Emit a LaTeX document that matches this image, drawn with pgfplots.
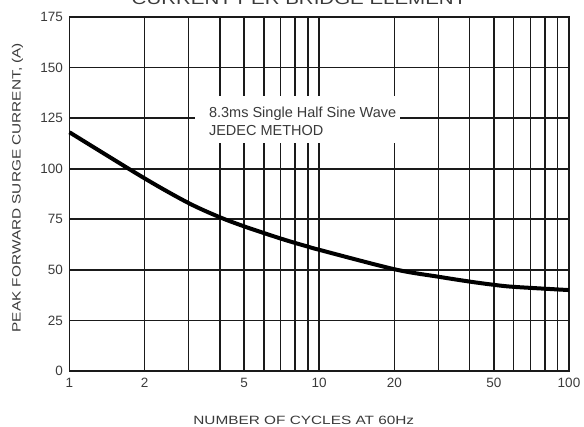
\documentclass[border=0pt]{standalone}
\usepackage{fontspec}
\setmainfont{Liberation Sans}
\newfontfamily\widefont[FakeStretch=1.28]{Liberation Sans}
\usepackage{pgfplots}
\pgfplotsset{compat=1.18}
\definecolor{txt}{HTML}{3a3a3a}
\definecolor{gridc}{HTML}{1a1a1a}

\begin{document}
\begin{tikzpicture}[x=1pt,y=1pt]
\useasboundingbox (0,0) rectangle (584,427);
\begin{axis}[
    at={(69.5pt,56pt)}, anchor=south west,
    scale only axis, width=499.5pt, height=354pt,
    xmode=log, log basis x=10,
    xmin=1, xmax=100, ymin=0, ymax=175,
    xtick={1,2,3,4,5,6,7,8,9,10,20,30,40,50,60,70,80,90,100},
    xticklabels={1,2,,,5,,,,,10,20,,,50,,,,,100},
    ytick={0,25,...,175},
    major tick length=0pt,
    grid=major,
    major grid style={gridc, line width=1.6pt},
    axis line style={gridc, line width=1.6pt},
    tick label style={font=\fontsize{13.5}{15}\selectfont, text=txt},
    /pgf/number format/assume math mode=true,
    xticklabel style={yshift=-4pt},
    yticklabel style={xshift=-3pt},
    xlabel={NUMBER OF CYCLES AT 60Hz},
    ylabel={PEAK FORWARD SURGE CURRENT, (A)},
    label style={font=\widefont\fontsize{12}{14}\selectfont, text=txt},
    xlabel style={at={(rel axis cs:0.469,-0.1525)}, anchor=base},
    ylabel style={at={(rel axis cs:-0.0977,0.518)}, anchor=base, rotate=0},
    clip=false,
]
% peak surge current vs. number of cycles
\addplot[black, line width=4pt, smooth] coordinates {
(1,118) (2,95.2) (3,83) (4,76) (5,71.5) (6,68.2) (7,65.5) (8,63.3) (9,61.5) (10,59.9)
(20,50.3) (30,46.6) (40,44.2) (50,42.6) (60,41.6) (100,40)};
\fill[white] (rel axis cs:0.251,0.644) rectangle (rel axis cs:0.662,0.777);
\node[anchor=base west, text=txt, font=\fontsize{14.5}{17}\selectfont, inner sep=0pt]
  at (rel axis cs:0.279,0.715) {8.3ms Single Half Sine Wave};
\node[anchor=base west, text=txt, font=\fontsize{14.5}{17}\selectfont, inner sep=0pt]
  at (rel axis cs:0.279,0.664) {JEDEC METHOD};
\node[anchor=base, text=txt, font=\widefont\fontsize{16}{18}\selectfont, inner sep=0pt]
  at (rel axis cs:0.4595,1.0353) {CURRENT PER BRIDGE ELEMENT};
\end{axis}
\end{tikzpicture}
\end{document}
